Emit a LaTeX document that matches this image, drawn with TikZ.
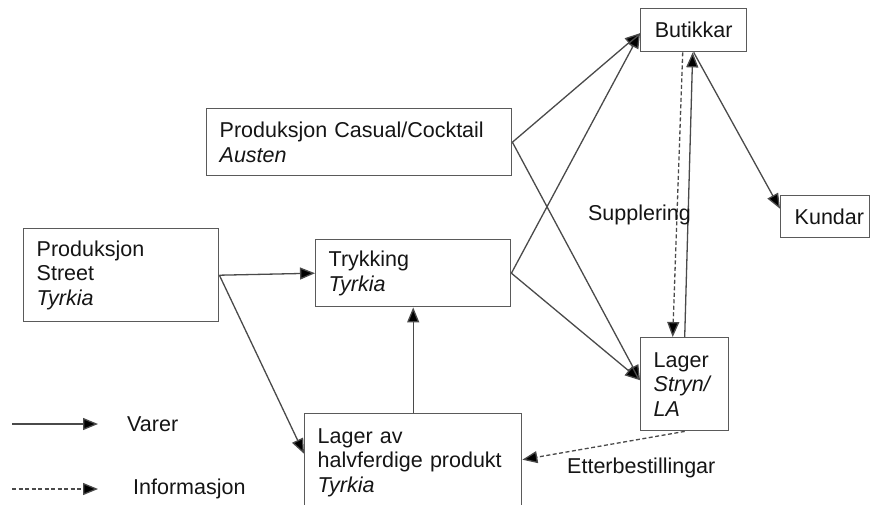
\documentclass[tikz,border=0pt]{standalone}
\usepackage{fontspec}
\setmainfont{Liberation Sans}
\usetikzlibrary{arrows.meta,calc}
\definecolor{linegray}{HTML}{4A4A4A}
\definecolor{boxgray}{HTML}{5A5A5A}
\definecolor{inkcol}{HTML}{151515}
\tikzset{
  box/.style={draw=boxgray, line width=1.4pt, rectangle, anchor=north west,
    inner xsep=13pt, inner ysep=0pt, align=left, text=inkcol,
    font=\fontsize{21.5}{24.5}\selectfont},
  lbl/.style={text=inkcol, inner sep=0pt, font=\fontsize{21.5}{24.5}\selectfont},
  goods/.style={draw=linegray, line width=1.3pt,
    -{Triangle[length=15pt,width=12pt,fill=black]}},
  info/.style={goods, dash pattern=on 4pt off 2.5pt}
}
\begin{document}
\begin{tikzpicture}[x=1pt,y=-1pt]
\useasboundingbox (0,0) rectangle (870,504);
\clip (0,0) rectangle (870,504);
\fill[white] (0,0) rectangle (870,504);

% boxes
\node[box, minimum width=106pt, minimum height=43pt, align=center, inner xsep=0pt] (but) at (640,8) {Butikkar};
\node[box, minimum width=89pt, minimum height=42pt, text width=61pt, inner xsep=14pt] (kun) at (780,195) {Kundar};
\node[box, minimum width=305pt, minimum height=67pt, text width=279pt] (cas) at (206,108)
  {Produksjon Casual/Cocktail\\\textit{Austen}};
\node[box, minimum width=195pt, minimum height=93pt, text width=169pt] (str) at (23,228)
  {Produksjon\\Street\\\textit{Tyrkia}};
\node[box, minimum width=195pt, minimum height=67pt, text width=169pt] (try) at (315,239)
  {Trykking\\\textit{Tyrkia}};
\node[box, minimum width=88pt, minimum height=93pt, text width=62pt] (lst) at (640,337)
  {Lager\\\textit{Stryn/}\\\textit{LA}};
\node[box, minimum width=217pt, minimum height=98pt, text width=191pt] (hal) at (304,413)
  {Lager av\\halvferdige produkt\\\textit{Tyrkia}};

% flow of goods
\draw[goods] (cas.east) -- ([yshift=-3pt]but.west);
\draw[goods] (cas.east) -- ([yshift=4pt]lst.west);
\draw[goods] (try.east) -- ([yshift=-3pt]but.west);
\draw[goods] (try.east) -- ([yshift=4pt]lst.west);
\draw[goods] (str.east) -- (try.west);
\draw[goods] (str.east) -- ([yshift=9pt]hal.west);
\draw[goods] (hal.north) -- (try.south);
\draw[goods] (lst.north) -- ([xshift=-1pt]but.south);
\draw[goods] (but.south) -- ([yshift=8pt]kun.west);

% flow of information
\draw[info] ([xshift=-11pt]but.south) -- ([xshift=-12pt]lst.north);
\draw[info] (lst.south) -- ([yshift=3pt]hal.east);

% labels
\node[lbl] (sup) at (639.5,215) {Supplering};
\node[lbl, anchor=west] (etb) at (567,468) {Etterbestillingar};

% legend
\coordinate (va) at (12,424);
\coordinate (vb) at (98,424);
\coordinate (ia) at (12,489);
\coordinate (ib) at (98,489);
\draw[goods] (va) -- (vb);
\draw[info] (ia) -- (ib);
\node[lbl, anchor=west] (var) at (127,424) {Varer};
\node[lbl, anchor=west] (inf) at (133,489) {Informasjon};
\end{tikzpicture}
\end{document}
